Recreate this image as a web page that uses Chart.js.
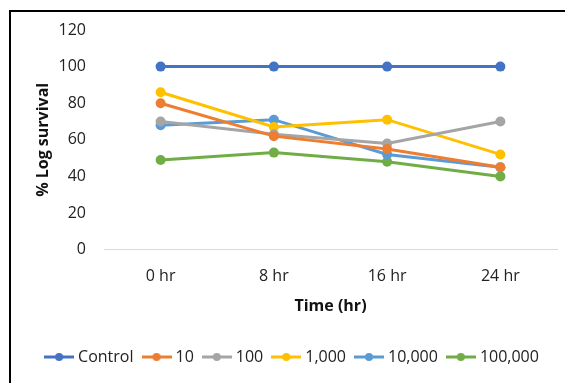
<!DOCTYPE html>
<html>
<head>
<meta charset="utf-8">
<script src="https://cdn.jsdelivr.net/npm/chart.js@4/dist/chart.umd.min.js"></script>
<style>
  html, body { margin: 0; padding: 0; background: #fff; overflow: hidden; }
  #wrap { position: absolute; left: 0; top: 0; width: 565px; height: 383px; }
</style>
</head>
<body>
<div id="wrap"><canvas id="c" width="565" height="383"></canvas></div>
<script>
const categories = ['0 hr', '8 hr', '16 hr', '24 hr'];
const seriesNames = ['Control', '10', '100', '1,000', '10,000', '100,000'];
const control  = [100, 100, 100, 100];
const dose10   = [80, 62, 55, 45];
const dose100  = [70, 63, 58, 70];
const dose1k   = [86, 67, 71, 52];
const dose10k  = [68, 71, 52, 45];
const dose100k = [49, 53, 48, 40];
const yTicks = [0, 20, 40, 60, 80, 100, 120];

const colors = ['#4472C4', '#ED7D31', '#A5A5A5', '#FFC000', '#5B9BD5', '#70AD47'];
const values = [control, dose10, dose100, dose1k, dose10k, dose100k];

// legend marker: short line with a dot in the middle
function markerImage(color) {
  const c = document.createElement('canvas');
  c.width = 30; c.height = 10;
  const g = c.getContext('2d');
  g.strokeStyle = color; g.lineWidth = 3;
  g.beginPath(); g.moveTo(0, 5); g.lineTo(30, 5); g.stroke();
  g.fillStyle = color;
  g.beginPath(); g.arc(15, 5, 4, 0, Math.PI * 2); g.fill();
  return c;
}

const datasets = seriesNames.map((name, i) => ({
  label: name,
  data: values[i],
  borderColor: colors[i],
  backgroundColor: colors[i],
  borderWidth: 3,
  pointRadius: 5,
  pointHoverRadius: 5,
  pointBorderWidth: 0,
  pointStyle: 'circle',
  tension: 0,
  legendMarker: markerImage(colors[i])
}));

// frame line along the top and left
const framePlugin = {
  id: 'frame',
  afterDraw(chart) {
    const g = chart.ctx;
    g.save();
    g.strokeStyle = '#000';
    g.lineWidth = 2;
    g.beginPath();
    g.moveTo(10, 383);
    g.lineTo(10, 11);
    g.lineTo(565, 11);
    g.stroke();
    g.restore();
  }
};

const font = "'Open Sans', 'Liberation Sans', sans-serif";

new Chart(document.getElementById('c'), {
  type: 'line',
  data: { labels: categories, datasets },
  options: {
    responsive: false,
    animation: false,
    layout: { padding: { left: 30, right: 8, top: 30, bottom: 8 } },
    plugins: {
      tooltip: { enabled: false },
      legend: {
        position: 'bottom',
        labels: {
          usePointStyle: true,
          pointStyleWidth: 22,
          boxHeight: 10,
          padding: 12,
          color: '#222',
          font: { family: font, size: 16 },
          generateLabels(chart) {
            return chart.data.datasets.map((d, i) => ({
              text: d.label,
              pointStyle: d.legendMarker,
              fillStyle: d.borderColor,
              strokeStyle: d.borderColor,
              lineWidth: 0,
              hidden: false,
              datasetIndex: i,
              fontColor: '#222'
            }));
          }
        }
      }
    },
    scales: {
      x: {
        offset: true,
        grid: { display: false, drawTicks: false },
        border: { display: true, color: '#D9D9D9', width: 1 },
        ticks: { color: '#222', font: { family: font, size: 16 }, padding: 17 },
        title: { display: true, text: 'Time (hr)', color: '#111', font: { family: font, size: 16, weight: 'bold' }, padding: { top: -6, bottom: 21 } }
      },
      y: {
        min: 0, max: 120,
        afterBuildTicks(scale) { scale.ticks = yTicks.map(v => ({ value: v })); },
        afterFit(scale) { scale.width = 74; },
        grid: { display: false, drawTicks: false },
        border: { display: false },
        ticks: { color: '#222', font: { family: font, size: 16 }, padding: 18 },
        title: { display: true, text: '% Log survival', color: '#111', font: { family: font, size: 16, weight: 'bold' }, padding: { bottom: 0 } }
      }
    }
  },
  plugins: [framePlugin]
});
</script>
</body>
</html>
